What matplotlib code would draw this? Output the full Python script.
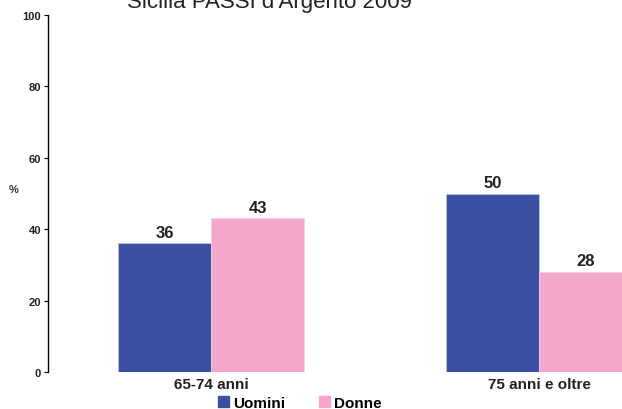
import matplotlib.pyplot as plt
import numpy as np
from matplotlib.patches import Patch

plt.rcParams['font.family'] = ['Liberation Sans', 'DejaVu Sans']

# Dati
categorie = ['65-74 anni', '75 anni e oltre']
uomini = [36, 50]
donne = [43, 28]
serie = ['Uomini', 'Donne']
colori = ['#3B50A2', '#F5A6CB']

fig = plt.figure(figsize=(6.22, 4.10), dpi=100)
ax = fig.add_axes([48 / 622, 37 / 410, 1 - 48 / 622, (373 - 16) / 410])

x = np.arange(len(categorie))
w = 0.2835
b1 = ax.bar(x - w / 2, uomini, w, color=colori[0], edgecolor='#c8cde0', linewidth=0.4)
b2 = ax.bar(x + w / 2, donne, w, color=colori[1], edgecolor='#f3d3e2', linewidth=0.4)

for barre in (b1, b2):
    for r in barre:
        ax.text(r.get_x() + r.get_width() / 2, r.get_height() + 1.0, f"{r.get_height():.0f}",
                ha='center', va='bottom', fontsize=12, fontweight='bold', color='#222222')

ax.set_xlim(-0.497, 1.253)
ax.set_ylim(0, 100)
ax.set_yticks(range(0, 101, 20))
ax.tick_params(axis='y', labelsize=8, length=3, width=0.8, pad=2, labelcolor='#222222')
for t in ax.get_yticklabels():
    t.set_fontweight('bold')
ax.set_xticks([])
for s in ['top', 'right', 'bottom']:
    ax.spines[s].set_visible(False)
ax.spines['left'].set_linewidth(1.0)

for i, c in enumerate(categorie):
    ax.text(x[i], -1.4, c, ha='center', va='top', fontsize=11, fontweight='bold', color='#222222')

fig.text(14 / 622, 1 - 190 / 410, '%', ha='center', va='center', fontsize=8, fontweight='bold', color='#333333')
fig.text(269 / 622, 1 - 8 / 410, "Sicilia PASSI d'Argento 2009", ha='center', va='baseline', fontsize=16, color='#222222')

handles = [Patch(color=colori[0]), Patch(color=colori[1])]
fig.legend(handles, serie, ncol=2, loc='center', bbox_to_anchor=(300 / 622, 1 - 404 / 410), frameon=False,
           prop={'weight': 'bold', 'size': 11}, handlelength=0.7, handleheight=0.7, handletextpad=0.3,
           columnspacing=2.2, borderpad=0)

plt.savefig('out.png', dpi=100)
